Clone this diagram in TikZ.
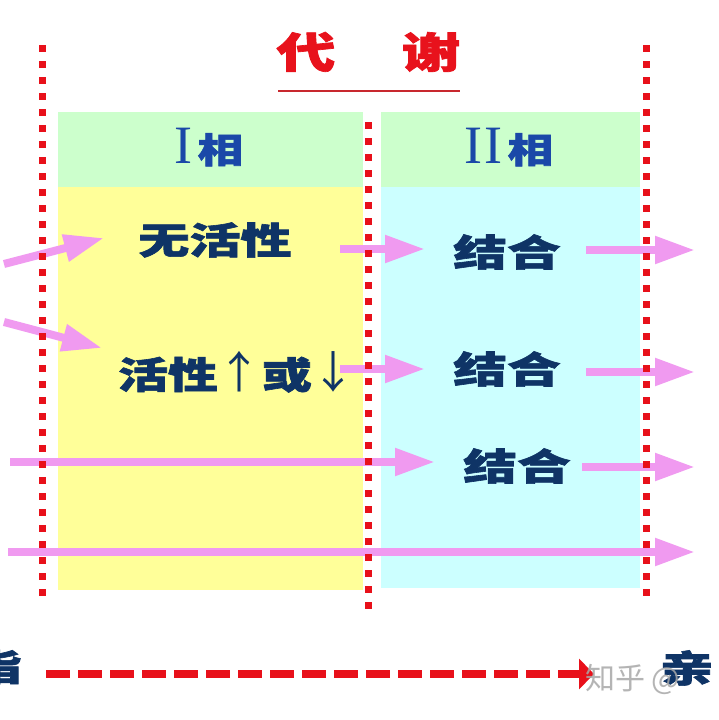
\documentclass[tikz,border=0pt]{standalone}
\usepackage{fontspec}
\usepackage{graphicx}
\newfontfamily\cjk{Noto Sans CJK SC}[BoldFeatures={FakeBold=1.6}]
\newfontfamily\cjkplain{Noto Sans CJK SC}
\newfontfamily\romfont{Liberation Serif}
\usetikzlibrary{arrows.meta}
\definecolor{dotred}{HTML}{E8101A}
\definecolor{titlered}{HTML}{E8121C}
\definecolor{linered}{HTML}{C8282E}
\definecolor{hdrgreen}{HTML}{CCFFCC}
\definecolor{bodyyellow}{HTML}{FFFF99}
\definecolor{bodycyan}{HTML}{CCFFFF}
\definecolor{pinkc}{HTML}{F09AF0}
\definecolor{navy}{HTML}{0F3466}
\definecolor{hdrblue}{HTML}{1A48A8}
\definecolor{wmgray}{HTML}{A8A8A8}
\begin{document}
\begin{tikzpicture}[x=1pt,y=-1pt,
  titletext/.style={inner sep=0pt,text=titlered,font=\cjk\bfseries\fontsize{42}{44}\selectfont},
  hdrtext/.style={inner sep=0pt,text=hdrblue},
  bodytext/.style={inner sep=0pt,text=navy,font=\cjk\bfseries\fontsize{37}{40}\selectfont},
  pinkarrow/.style={draw=pinkc,line width=8pt,-{Triangle[length=40pt,width=26pt]}},
  reddots/.style={draw=dotred,line width=7pt,dash pattern=on 7pt off 9pt},
  reddash/.style={draw=dotred,line width=8pt,dash pattern=on 24pt off 8pt,-{Triangle[length=15pt,width=30pt]}},
  titleline/.style={draw=linered,line width=2pt}]
\useasboundingbox (0,0) rectangle (719,720);
\clip (0,0) rectangle (719,720);
\fill[white] (0,0) rectangle (719,720);

% title
\node[titletext] (dai) at (306,52) {\scalebox{1.4}[1]{代}};
\node[titletext] (xie) at (431,52) {\scalebox{1.4}[1]{谢}};
\coordinate (ulA) at (278,91);
\coordinate (ulB) at (460,91);
\draw[titleline] (ulA) -- (ulB);

% boxes
\fill[hdrgreen] (58,112) rectangle (363,187);
\fill[hdrgreen] (381,112) rectangle (640,187);
\fill[bodyyellow] (58,187) rectangle (363,590);
\fill[bodycyan] (381,187) rectangle (640,588);

% headers
\node[hdrtext,anchor=base] (h1) at (209,163) {{\romfont\fontsize{54}{56}\selectfont I}\kern5pt{\cjk\bfseries\fontsize{35}{38}\selectfont\scalebox{1.3}[1]{相}}};
\node[hdrtext,anchor=base] (h2) at (509,163) {{\romfont\fontsize{54}{56}\selectfont I\kern2pt I}\kern5pt{\cjk\bfseries\fontsize{35}{38}\selectfont\scalebox{1.3}[1]{相}}};

% body texts
\node[bodytext] (wuhuo) at (215,240) {\scalebox{1.38}[1]{无活性}};
\node[bodytext] (huoxing) at (237,372) {\scalebox{1.35}[1]{活性}{\cjkplain\mdseries\fontsize{44}{46}\selectfont↑}\scalebox{1.35}[1]{或}{\cjkplain\mdseries\fontsize{44}{46}\selectfont↓}};
\node[bodytext] (jh1) at (507,252) {\scalebox{1.45}[1]{结合}};
\node[bodytext] (jh2) at (507,369) {\scalebox{1.45}[1]{结合}};
\node[bodytext] (jh3) at (517,466) {\scalebox{1.45}[1]{结合}};
\node[bodytext] (zhi) at (-5,667) {\scalebox{1.45}[1]{脂}};
\node[bodytext] (qin) at (687,668) {\scalebox{1.45}[1]{亲}};

% pink arrows
\coordinate (a1s) at (4,264);  \coordinate (a1e) at (104,238);
\coordinate (a2s) at (4,322);  \coordinate (a2e) at (102,348);
\coordinate (a3s) at (340,249); \coordinate (a3e) at (425,249);
\coordinate (a4s) at (340,369); \coordinate (a4e) at (425,369);
\coordinate (a5s) at (10,462);  \coordinate (a5e) at (435,462);
\coordinate (a6s) at (586,250); \coordinate (a6e) at (695,250);
\coordinate (a7s) at (586,372); \coordinate (a7e) at (695,372);
\coordinate (a8s) at (582,467); \coordinate (a8e) at (695,467);
\coordinate (a9s) at (8,552);   \coordinate (a9e) at (695,552);
\foreach \i in {1,...,9} \draw[pinkarrow] (a\i s) -- (a\i e);

% red dotted lines
\coordinate (d1a) at (42,45);  \coordinate (d1b) at (42,600);
\coordinate (d2a) at (368,122); \coordinate (d2b) at (368,610);
\coordinate (d3a) at (646,45); \coordinate (d3b) at (646,600);
\draw[reddots] (d1a) -- (d1b);
\draw[reddots] (d2a) -- (d2b);
\draw[reddots] (d3a) -- (d3b);

% bottom dashed arrow
\coordinate (bs) at (46,674);
\coordinate (be) at (594,674);
\draw[reddash] (bs) -- (be);

% watermark
\node[anchor=west,inner sep=0pt,text=wmgray,opacity=0.85,font=\cjkplain\fontsize{30}{32}\selectfont] (wm) at (585,679) {知乎 @};
\end{tikzpicture}
\end{document}
